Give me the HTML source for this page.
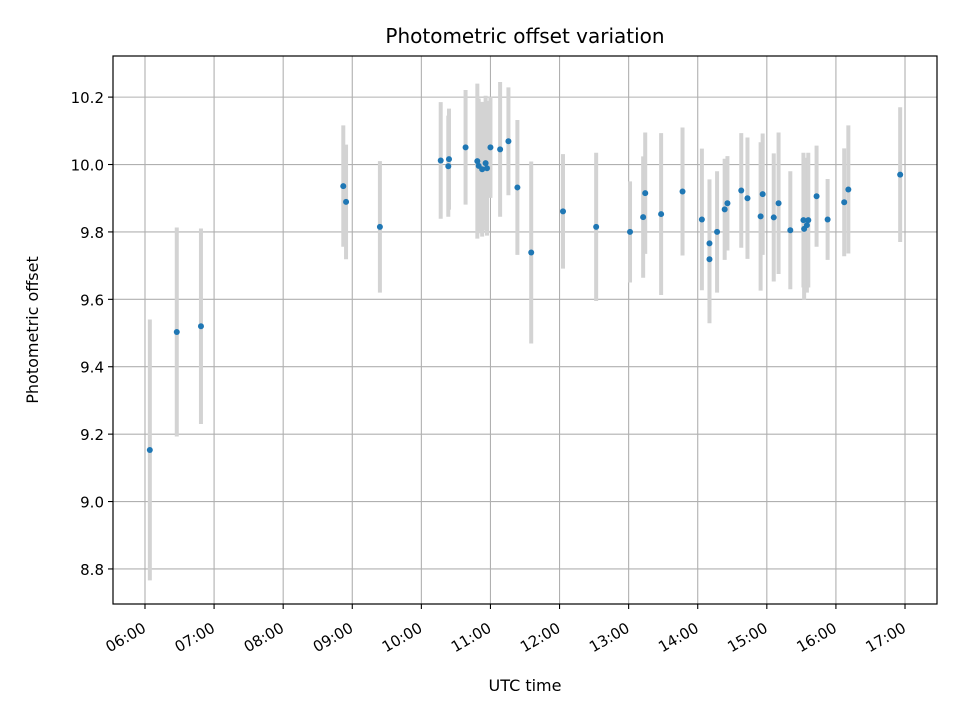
<!DOCTYPE html>
<html><head><meta charset="utf-8"><style>
body{margin:0;background:#fff}
svg{display:block;font-family:"DejaVu Sans","Liberation Sans",sans-serif}
</style></head><body>
<svg id="chart" width="960" height="720" xmlns="http://www.w3.org/2000/svg">
<rect width="960" height="720" fill="#fff"/>
<text x="525" y="43" text-anchor="middle" font-size="20">Photometric offset variation</text>
<g id="grid"></g>
<g id="bars"></g>
<g id="pts"></g>
<rect x="113" y="56" width="824" height="548" fill="none" stroke="#000" stroke-width="1.2"/>
<g id="axes"></g>
<text x="525" y="691" text-anchor="middle" font-size="16">UTC time</text>
<text transform="translate(38,330) rotate(-90)" text-anchor="middle" font-size="16">Photometric offset</text>
</svg>
<script>
const times=[6.07,6.46,6.81,8.87,8.91,9.40,10.28,10.40,10.39,10.64,10.81,10.83,10.88,10.93,10.95,11.0,11.14,11.26,11.39,11.59,12.05,12.53,13.02,13.21,13.24,13.47,13.78,14.06,14.17,14.17,14.28,14.39,14.43,14.63,14.72,14.91,14.94,15.10,15.17,15.34,15.53,15.54,15.58,15.60,15.72,15.88,16.12,16.18,16.93];
const values=[9.153,9.503,9.52,9.936,9.889,9.815,10.012,10.016,9.995,10.051,10.01,9.996,9.986,10.004,9.989,10.051,10.045,10.069,9.932,9.739,9.861,9.815,9.80,9.844,9.915,9.853,9.92,9.837,9.766,9.719,9.80,9.867,9.885,9.923,9.90,9.846,9.912,9.843,9.885,9.805,9.835,9.809,9.82,9.835,9.906,9.837,9.888,9.926,9.97];
const errors=[0.387,0.31,0.29,0.18,0.17,0.195,0.173,0.15,0.15,0.17,0.23,0.2,0.2,0.2,0.2,0.15,0.2,0.16,0.2,0.27,0.17,0.22,0.15,0.18,0.18,0.24,0.19,0.21,0.19,0.19,0.18,0.15,0.14,0.17,0.18,0.22,0.18,0.19,0.21,0.175,0.2,0.21,0.2,0.2,0.15,0.12,0.16,0.19,0.2];
const xTickHours=[6,7,8,9,10,11,12,13,14,15,16,17];
const xTickLabels=["06:00","07:00","08:00","09:00","10:00","11:00","12:00","13:00","14:00","15:00","16:00","17:00"];
const yTicks=[8.8,9.0,9.2,9.4,9.6,9.8,10.0,10.2];
const yTickLabels=["8.8","9.0","9.2","9.4","9.6","9.8","10.0","10.2"];
const NS="http://www.w3.org/2000/svg";
const X0=113,X1=937,Y0=56,Y1=604,xmin=5.537,xmax=17.463,ymin=8.696,ymax=10.322;
function sx(h){return X0+(h-xmin)/(xmax-xmin)*(X1-X0);}
function sy(v){return Y1-(v-ymin)/(ymax-ymin)*(Y1-Y0);}
function mk(tag,attrs,parent){const e=document.createElementNS(NS,tag);for(const k in attrs)e.setAttribute(k,attrs[k]);parent.appendChild(e);return e;}
const grid=document.getElementById('grid'),axes=document.getElementById('axes'),bars=document.getElementById('bars'),pts=document.getElementById('pts');
xTickHours.forEach((h,i)=>{
  const x=sx(h);
  const g=mk('line',{x1:x,x2:x,y1:Y0,y2:Y1,stroke:'#b0b0b0','stroke-width':1.1},grid);
  
  
  const t=mk('line',{x1:x,x2:x,y1:Y1,y2:Y1+5,stroke:'#000','stroke-width':1.1},axes);
  
  
  const lx=x+2,ly=Y1+27;
  const l=mk('text',{x:lx,y:ly,'text-anchor':'end','font-size':15,transform:`rotate(-30 ${lx} ${ly})`},axes);
  l.textContent=xTickLabels[i];
  
  
});
yTicks.forEach((v,i)=>{
  const y=sy(v);
  const g=mk('line',{x1:X0,x2:X1,y1:y,y2:y,stroke:'#b0b0b0','stroke-width':1.1},grid);
  
  
  const t=mk('line',{x1:X0-5,x2:X0,y1:y,y2:y,stroke:'#000','stroke-width':1.1},axes);
  
  
  const l=mk('text',{x:X0-9,y:y+6,'text-anchor':'end','font-size':15},axes);
  l.textContent=yTickLabels[i];
  
  
});
times.forEach((h,i)=>{
  const x=sx(h);
  const b=mk('line',{x1:x,x2:x,y1:sy(values[i]-errors[i]),y2:sy(values[i]+errors[i]),stroke:'#d3d3d3','stroke-width':4},bars);
  
  
});
times.forEach((h,i)=>{
  const c=mk('circle',{cx:sx(h),cy:sy(values[i]),r:3,fill:'#1f77b4'},pts);
  
  
});
</script>
</body></html>
